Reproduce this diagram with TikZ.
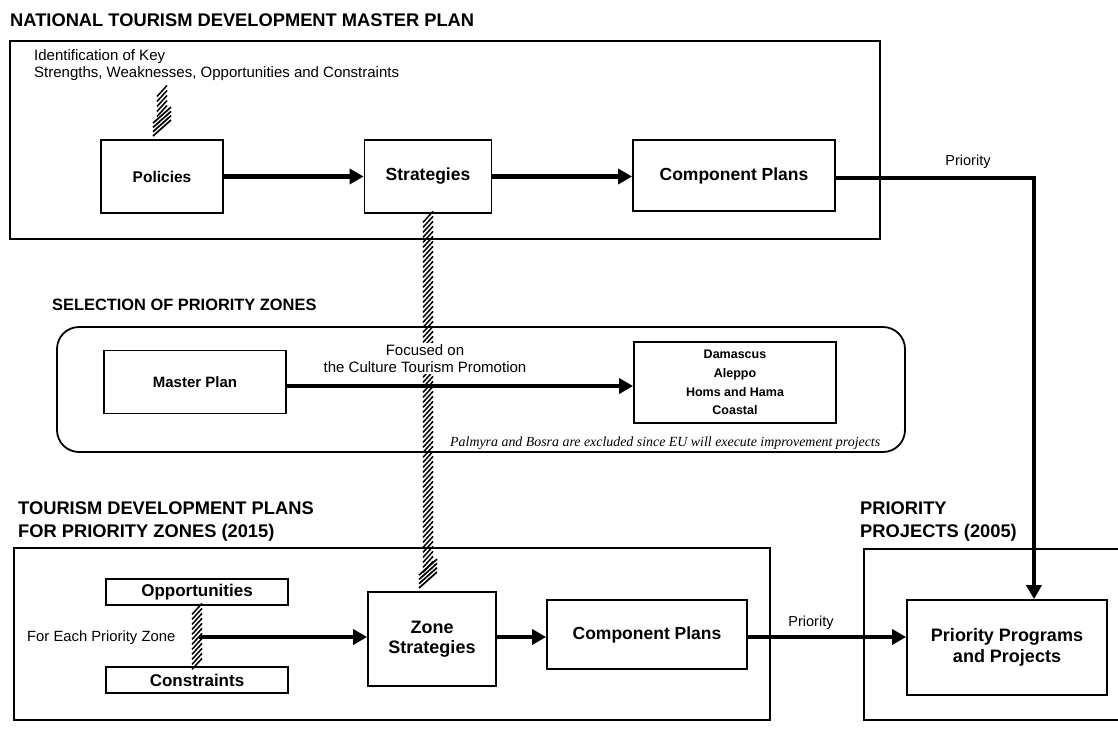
\documentclass[tikz,border=0pt]{standalone}
\usepackage{fontspec}
\setmainfont{Liberation Sans}
\newfontfamily\noteserif{Liberation Serif}
\usetikzlibrary{arrows.meta,decorations.markings}
\newcommand{\myfs}[2]{\fontsize{#1}{#2}\selectfont}
\begin{document}
\begin{tikzpicture}[x=1pt,y=-1pt,
  box/.style={draw, line width=1.8pt, inner sep=0pt, align=center, fill=white, font=\myfs{17.5}{20.5}\bfseries},
  frame/.style={line width=2.6pt},
  flow/.style={line width=4.5pt, -{Triangle[length=14pt,width=15pt]}},
  hdr/.style={anchor=west, inner sep=0pt, align=left, font=\myfs{18.3}{23}\bfseries},
  lbl/.style={inner sep=0pt, font=\myfs{14.5}{16}},
  hatchband/.style={decorate, decoration={markings,
     mark=between positions 3pt and 1 step 5pt with {\draw[line width=1.5pt] (5.5pt,-5pt) -- (-5.5pt,5pt);}}},
  hatchhead/.style={decorate, decoration={markings,
     mark=between positions 0pt and 17.2pt step 4.3pt with {\draw[line width=1.7pt] (8pt,-9pt) -- (-8pt,9pt);}}},
]
\useasboundingbox (0,0) rectangle (1118,728);
% containers
\draw[frame] (10,41) rectangle (880,239);
\draw[line width=1.8pt, rounded corners=22pt] (57,327) rectangle (905,452);
\draw[frame] (14,548) rectangle (770,720);
\draw[frame] (1125,549) -- (864,549) -- (864,720) -- (1125,720);
% headers
\node[hdr] (t1) at (10,20) {NATIONAL TOURISM DEVELOPMENT MASTER PLAN};
\node[hdr, font=\myfs{16.4}{19}\bfseries] (t2) at (52,305) {SELECTION OF PRIORITY ZONES};
\node[hdr] (t3) at (18,521.5) {TOURISM DEVELOPMENT PLANS\\FOR PRIORITY ZONES (2015)};
\node[hdr] (t4) at (860,521.5) {PRIORITY\\PROJECTS (2005)};
% top section
\node[lbl, anchor=west, align=left, font=\myfs{15}{16.5}] (id) at (34,65) {Identification of Key\\Strengths, Weaknesses, Opportunities and Constraints};
\node[box, minimum width=122pt, minimum height=73pt, font=\myfs{15.5}{18}\bfseries] (pol) at (162,176.5) {Policies};
\node[box, minimum width=127pt, minimum height=73pt] (str) at (428,176.5) {Strategies};
\node[box, minimum width=202pt, minimum height=71pt] (cp1) at (734,175.5) {Component Plans};
% middle section
\node[box, minimum width=182pt, minimum height=63pt, font=\myfs{15}{17}\bfseries] (mp) at (195,382) {Master Plan};
\node[box, minimum width=202pt, minimum height=81pt, font=\myfs{12.5}{18.7}\bfseries] (cities) at (735,382.5) {Damascus\\Aleppo\\Homs and Hama\\Coastal};
\node[anchor=west, inner sep=0pt, font=\noteserif\itshape\myfs{13.9}{15}] (note) at (450,443) {Palmyra and Bosra are excluded since EU will execute improvement projects};
% bottom section
\node[box, minimum width=182pt, minimum height=26pt, font=\myfs{17}{20}\bfseries] (opp) at (197,592) {Opportunities};
\node[box, minimum width=182pt, minimum height=26pt, font=\myfs{17}{20}\bfseries] (con) at (197,680) {Constraints};
\node[box, minimum width=128pt, minimum height=94pt, font=\myfs{18}{20}\bfseries] (zs) at (432,639) {Zone\\Strategies};
\node[box, minimum width=200pt, minimum height=69pt] (cp2) at (647,634.5) {Component Plans};
\node[box, minimum width=200pt, minimum height=95pt, font=\myfs{18}{21}\bfseries] (pp) at (1007,647.5) {Priority Programs\\and Projects};
\node[lbl, anchor=west, font=\myfs{14.8}{16}] (fe-l) at (27,638) {For Each Priority Zone};
% hatched connectors
\coordinate (ha) at (162,88);
\path[hatchband] (ha) -- ([yshift=24pt]pol.north);
\path[hatchhead] ([yshift=24pt]pol.north) -- (pol.north);
\coordinate (hb) at (str.south |- zs.north);
\path[hatchband] (str.south) -- ([yshift=24pt]hb);
\path[hatchhead] ([yshift=24pt]hb) -- (hb);
\path[hatchband] (opp.south) -- (con.north);
% focus label over hatch
\node[fill=white, inner sep=1.5pt, align=center, font=\myfs{15}{17}] (foc) at (425,358.5) {Focused on\\the Culture Tourism Promotion};
% arrows
\draw[flow] (pol) -- (str);
\draw[flow] (str) -- (cp1.west |- str);
\coordinate (turn) at (1034,178);
\draw[flow] (cp1.east |- turn) -- (turn) -- (turn |- pp.north);
\node[lbl] (pr1) at (968,162) {Priority};
\coordinate (ma) at (300,386);
\draw[flow] (mp.east |- ma) -- (cities.west |- ma);
\coordinate (fe) at (199,637);
\draw[flow] (fe) -- (fe -| zs.west);
\draw[flow] (fe -| zs.east) -- (fe -| cp2.west);
\draw[flow] (fe -| cp2.east) -- (fe -| pp.west);
\node[lbl] (pr2) at (811,623) {Priority};
\end{tikzpicture}
\end{document}
